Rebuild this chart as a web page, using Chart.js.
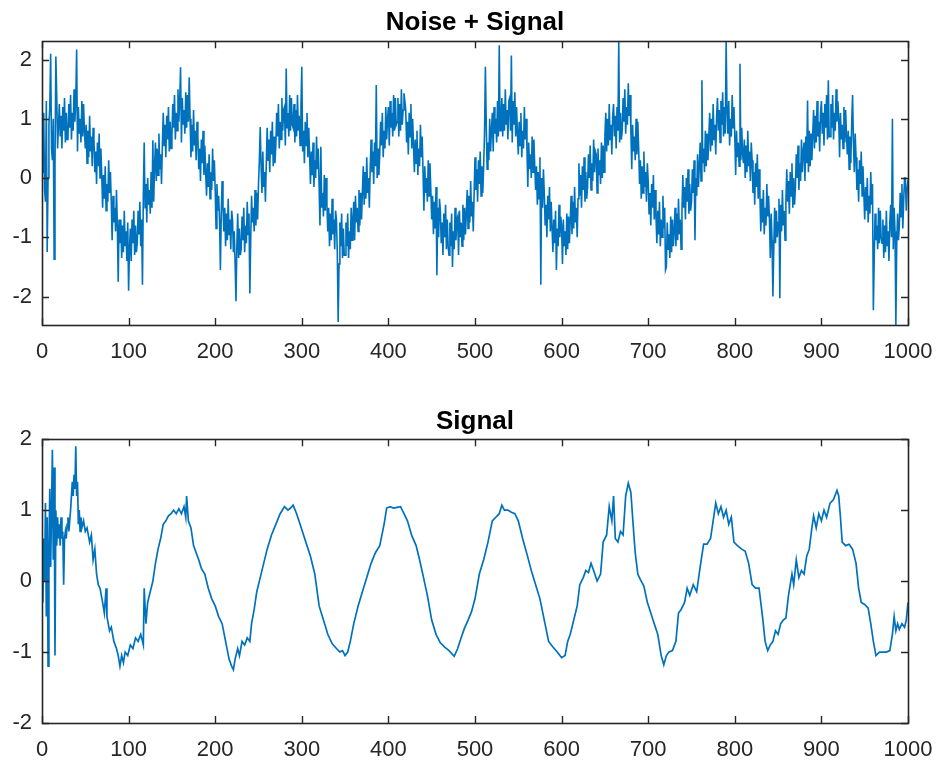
<!DOCTYPE html>
<html>
<head>
<meta charset="utf-8">
<script src="https://cdn.jsdelivr.net/npm/chart.js@4.4.1/dist/chart.umd.min.js"></script>
<style>
  html, body { margin: 0; padding: 0; background: #ffffff; }
  #wrap { position: relative; width: 940px; height: 763px; overflow: hidden; }
  canvas { position: absolute; left: 0; }
  #c1 { top: 0; }
  #c2 { top: 380px; }
</style>
</head>
<body>
<div id="wrap">
  <canvas id="c1" width="940" height="380"></canvas>
  <canvas id="c2" width="940" height="383"></canvas>
</div>
<script>
// ---------------- DATA ----------------
const topTitle = 'Noise + Signal';
const bottomTitle = 'Signal';

const xTickValues = [0, 100, 200, 300, 400, 500, 600, 700, 800, 900, 1000];
const yTickValuesTop = [-2, -1, 0, 1, 2];
const yTickValuesBottom = [-2, -1, 0, 1, 2];

const topYMin = -2.48;
const topYMax = 2.31;
const bottomYMin = -2;
const bottomYMax = 2;

// Noise + Signal, one sample per unit of x (x = 0 ... 1000); 20 samples per row
const noisyValues = [
  0.10, 0.60, 1.10, -0.20, -0.40, 1.30, -1.25, 0.00, 0.90, 1.20, 2.10, 0.50, 0.30, 1.00, -1.37, 0.20, 2.05, 1.40, 0.50, 0.90,
  1.25, 0.70, 1.05, 0.50, 1.20, 0.80, 1.35, 0.60, 1.10, 0.65, 0.70, 1.25, 0.85, 1.40, 0.65, 1.10, 0.80, 1.50, 0.95, 1.30,
  2.17, 0.45, 1.20, 0.75, 1.00, 0.60, 1.30, 0.70, 1.25, 0.80, 0.50, 0.90, 0.25, 0.80, 0.35, 1.05, 0.45, 0.70, 0.20, 0.85,
  0.65, 0.10, 0.45, -0.10, 0.60, 0.20, 0.75, 0.00, 0.50, 0.05, -0.50, 0.05, -0.35, 0.20, -0.55, -0.10, -0.40, 0.30, -0.25, 0.10,
  -0.40, -1.05, -0.30, -0.75, -0.50, -0.90, -0.20, -0.80, -1.75, -0.70, -1.10, -0.70, -1.35, -0.80, -1.25, -0.55, -1.15, -0.90, -1.40, -0.75,
  -1.90, -1.20, -0.85, -1.40, -0.70, -1.10, -0.55, -1.30, -0.80, -1.25, -1.10, -0.55, -0.95, -0.40, -1.15, -0.70, -1.80, -0.30, 0.60, -0.50,
  -0.10, -0.75, 0.00, -0.45, -0.20, -0.60, 0.10, -0.50, 0.64, -0.40, 0.20, 0.60, -0.05, 0.50, 0.05, 0.75, 0.15, 0.40, -0.10, 0.55,
  1.10, 0.55, 0.90, 0.35, 1.05, 0.65, 1.20, 0.45, 0.95, 0.50, 0.70, 1.25, 0.85, 1.40, 0.65, 1.10, 0.80, 1.50, 0.95, 1.30,
  1.87, 0.60, 1.35, 0.90, 1.15, 0.75, 1.45, 0.85, 1.40, 0.95, 1.70, 1.00, 0.35, 0.90, 0.45, 1.15, 0.55, 0.80, 0.30, 0.95,
  0.70, 0.15, 0.50, -0.05, 0.65, 0.25, 0.80, 0.05, 0.55, 0.10, -0.30, 0.25, -0.15, 0.40, -0.35, 0.10, -0.20, 0.50, -0.05, 0.30,
  -0.20, -0.85, -0.10, -0.55, -0.30, -0.70, -1.55, -0.60, -0.05, -0.50, -0.90, -0.50, -1.15, -0.60, -1.05, -0.35, -0.95, -0.70, -1.20, -0.55,
  -0.70, -1.25, -0.90, -1.45, -2.08, -1.15, -0.60, -1.35, -0.85, -1.30, -1.20, -0.65, -1.05, -0.50, -1.25, -0.80, -1.10, -0.40, -0.95, -0.60,
  -1.95, -1.05, -0.30, -0.75, -0.50, -0.90, -0.20, -0.80, -0.25, -0.70, -0.10, 0.30, 0.86, 0.20, -0.25, 0.45, -0.15, 0.10, -0.40, 0.25,
  0.85, 0.30, 0.65, 0.10, 0.80, 0.40, 0.95, 0.20, 0.70, 0.25, 0.55, 1.10, 0.70, 1.25, 0.50, 0.95, 0.65, 1.35, 0.80, 1.15,
  1.20, 0.55, 1.85, 0.85, 1.10, 0.70, 1.40, 0.80, 1.35, 0.90, 0.85, 1.25, 0.60, 1.15, 0.70, 1.40, 0.80, 1.05, 0.55, 1.20,
  1.88, 0.45, 0.80, 0.25, 0.95, 0.55, 1.10, 0.35, 0.85, 0.40, -0.10, 0.45, 0.05, 0.60, -0.15, 0.30, 0.00, 0.70, 0.15, 0.50,
  -0.15, -0.80, 0.53, -0.50, -0.25, -0.65, 0.05, -0.55, 0.00, -0.45, -0.90, -0.50, -1.15, -0.60, -1.05, -0.35, -0.95, -0.70, -1.20, -0.55,
  -0.70, -1.25, -2.43, -1.45, -0.75, -1.15, -0.60, -1.35, -0.85, -1.30, -1.30, -0.75, -1.15, -0.60, -1.35, -0.90, -1.20, -0.50, -1.05, -0.70,
  -0.40, -1.05, -0.30, -0.75, -0.50, -0.90, -0.20, -0.80, -0.25, -0.70, -0.20, 0.20, -0.45, 0.10, -0.35, 0.35, -0.25, 0.00, -0.50, 0.15,
  0.65, 0.10, 0.45, -0.10, 0.60, 0.20, 1.57, 0.00, 0.50, 0.05, 0.40, 0.95, 0.55, 1.10, 0.35, 0.80, 0.50, 1.20, 0.65, 1.00,
  1.20, 0.55, 1.30, 0.85, 1.10, 0.70, 1.40, 0.80, 1.35, 0.90, 0.95, 1.35, 0.70, 1.25, 0.80, 1.50, 0.90, 1.15, 1.43, 1.30,
  1.15, 0.60, 0.95, 0.40, 1.10, 0.70, 1.25, 0.50, 1.00, 0.55, 0.10, 0.65, 0.25, 0.80, 0.05, 0.50, 0.20, 0.90, 0.35, 0.70,
  0.10, -0.55, 0.20, -0.25, 0.00, -0.40, 0.30, -0.30, 0.25, -0.20, -0.70, -0.30, -0.95, -0.40, -0.85, -0.15, -1.64, -0.50, -1.00, -0.35,
  -0.55, -1.10, -0.75, -1.30, -0.60, -1.00, -0.45, -1.20, -0.70, -1.15, -1.30, -0.75, -1.15, -0.60, -1.50, -0.90, -1.20, -0.50, -1.05, -0.70,
  -0.65, -1.30, -0.55, -1.00, -0.75, -1.15, -0.45, -1.05, -0.50, -0.95, -0.60, -0.20, -0.85, -0.30, -0.75, -0.05, -0.65, -0.40, -0.90, -0.25,
  0.35, -0.20, 0.15, -0.40, 0.30, -0.10, 0.45, -0.30, 0.20, -0.25, 0.20, 0.75, 1.88, 0.90, 0.15, 0.60, 0.30, 1.00, 0.45, 0.80,
  1.10, 0.45, 1.20, 0.75, 1.00, 0.60, 1.30, 0.70, 2.24, 0.80, 0.95, 1.35, 0.70, 1.25, 0.80, 1.50, 0.90, 1.15, 0.65, 1.30,
  1.35, 0.80, 2.07, 0.60, 1.30, 0.90, 1.45, 0.70, 1.20, 0.75, 0.40, 0.95, 0.55, 1.10, 0.35, 0.80, 0.50, 1.20, 0.65, 1.00,
  0.50, -0.15, 0.60, 0.15, 0.40, 0.00, 0.70, 0.10, 0.65, 0.20, -0.20, 0.20, -0.45, 0.10, -0.35, 0.35, -1.80, 0.00, -0.50, 0.15,
  -0.25, -0.80, -0.45, -1.00, -0.30, -0.70, -0.15, -0.90, -0.40, -0.85, -1.25, -0.70, -1.10, -0.55, -1.55, -0.85, -1.15, -0.45, -1.00, -0.65,
  -0.80, -1.45, -0.70, -1.15, -0.90, -1.30, -0.60, -1.20, -0.65, -1.10, -0.70, -0.30, -0.95, -0.40, -0.85, -0.15, -0.75, -0.50, -1.00, -0.35,
  0.25, -0.30, 0.05, -0.50, 0.20, -0.20, 0.35, -0.40, 0.10, -0.35, -0.15, 0.40, 0.00, 0.55, -0.20, 0.25, -0.05, 0.65, 0.10, 0.45,
  0.40, -0.25, 0.50, 0.05, 0.30, -0.10, 0.60, 0.00, 0.55, 0.10, 0.70, 1.10, 0.45, 1.00, 0.55, 1.25, 0.65, 0.90, 0.40, 1.05,
  1.25, 0.70, 1.05, 0.50, 1.20, 0.80, 2.31, 0.60, 1.10, 0.65, 0.80, 1.35, 0.95, 1.50, 0.75, 1.20, 0.90, 1.60, 1.05, 1.40,
  0.80, 0.15, 0.90, 0.45, 0.70, 0.30, 1.00, 0.40, 0.95, 0.50, -0.10, 0.30, -0.35, 0.20, -0.25, 0.45, -0.15, 0.10, -0.40, 0.25,
  -0.05, -0.60, -0.25, -0.80, -0.10, -0.50, 0.05, -0.70, -0.20, -0.65, -1.10, -0.55, -0.95, -0.40, -1.15, -0.70, -1.00, -0.30, -0.85, -0.50,
  -1.55, -1.50, -0.75, -1.20, -0.95, -1.35, -0.65, -1.25, -0.70, -1.15, -0.90, -0.50, -1.15, -0.60, -1.05, -0.35, -0.95, -0.70, -1.20, -0.55,
  0.05, -0.50, -0.15, -0.70, 0.00, -0.40, 0.15, -0.60, -0.10, -0.55, -0.40, 0.15, -0.25, 0.30, -1.05, 0.00, -0.30, 0.40, -0.15, 0.20,
  0.60, -0.05, 1.65, 0.25, 0.50, 0.10, 0.80, 0.20, 0.75, 0.30, 0.70, 1.10, 0.45, 1.00, 0.55, 1.25, 0.65, 0.90, 0.40, 1.05,
  1.35, 0.80, 1.15, 0.60, 1.30, 0.90, 1.45, 0.70, 1.20, 0.75, 2.31, 1.15, 0.75, 1.30, 0.55, 1.00, 0.70, 1.40, 0.85, 1.20,
  0.70, 0.05, 0.80, 0.35, 0.60, 0.20, 1.93, 0.30, 0.85, 0.40, 0.25, 0.65, 0.00, 0.55, 0.10, 0.80, 0.20, 0.45, -0.05, 0.60,
  0.30, -0.25, 0.10, -0.45, 0.25, -0.15, 0.40, -0.35, 0.15, -0.30, -0.90, -0.35, -0.75, -0.20, -0.95, -0.50, -0.80, -0.10, -0.65, -0.30,
  -0.70, -1.35, -0.60, -1.05, -2.00, -1.20, -0.50, -1.10, -0.55, -1.00, -0.75, -0.35, -2.03, -0.45, -0.90, -0.20, -0.80, -0.55, -1.05, -0.40,
  0.15, -0.40, -0.05, -0.60, 0.10, -0.30, 0.25, -0.50, 0.00, -0.45, -0.15, 0.40, 0.00, 0.55, -0.20, 0.25, -0.05, 0.65, 0.10, 0.45,
  0.60, -0.05, 0.70, 0.25, 1.31, 0.10, 0.80, 0.20, 0.75, 0.30, 0.75, 1.15, 0.50, 1.05, 0.60, 1.30, 0.70, 0.95, 0.45, 1.10,
  1.30, 0.75, 1.10, 0.55, 1.25, 0.85, 1.40, 0.65, 1.65, 0.70, 0.70, 1.25, 0.85, 1.40, 0.65, 1.10, 0.80, 1.50, 0.95, 1.30,
  1.00, 0.35, 1.10, 0.65, 0.90, 0.50, 1.20, 0.60, 1.15, 0.70, 0.40, 0.80, 0.15, 0.70, 0.25, 0.95, 1.40, 0.60, 0.10, 0.75,
  0.35, -0.20, 0.15, -0.40, 0.30, -0.10, 0.45, -0.30, 0.20, -0.25, -0.70, -0.15, -0.55, 0.00, -0.75, -0.30, -0.60, 0.10, -0.45, -0.10,
  -2.23, -1.35, -0.60, -1.05, -0.80, -1.20, -0.50, -1.10, -0.55, -1.00, -1.10, -0.70, -1.35, -0.80, -1.25, -0.55, -1.15, -0.90, -1.40, -0.75,
  -0.45, -1.00, 1.00, -1.20, -0.50, -0.90, -2.48, -1.10, -0.60, -1.05, -0.80, -0.25, -0.65, -0.10, -0.85, -0.40, 0.00, 0.00, -0.55, -0.20,
  -0.03
];

// Signal (denoised): sample positions and values
const signalX = [
  0, 1, 2, 3, 4, 5, 6, 7, 8, 9, 10, 11, 12, 13, 14, 15, 16, 17, 18, 19,
  20, 21, 22, 23, 24, 25, 26, 27, 28, 29, 30, 31, 33, 35, 36, 37, 38, 39, 40, 41,
  42, 43, 44, 45, 46, 48, 50, 52, 55, 57, 59, 61, 63, 65, 67, 70, 72, 74, 75, 78,
  80, 83, 86, 88, 90, 92, 94, 96, 99, 102, 105, 108, 111, 114, 117, 118, 120, 122, 125, 128,
  131, 134, 137, 140, 143, 146, 149, 152, 155, 158, 161, 164, 166, 167, 169, 172, 175, 178, 181, 184,
  188, 192, 196, 200, 204, 208, 212, 216, 219, 221, 223, 226, 228, 231, 234, 237, 240, 242, 245, 248,
  251, 255, 260, 265, 270, 275, 280, 284, 287, 290, 294, 298, 302, 306, 310, 315, 320, 325, 330, 335,
  340, 344, 347, 350, 353, 356, 360, 365, 370, 375, 380, 385, 390, 395, 398, 402, 406, 410, 414, 418,
  422, 427, 432, 436, 440, 445, 450, 455, 460, 465, 470, 476, 480, 484, 488, 492, 496, 500, 505, 510,
  515, 520, 524, 528, 531, 534, 538, 542, 546, 550, 555, 560, 565, 570, 575, 580, 585, 590, 595, 600,
  604, 607, 610, 614, 618, 621, 625, 628, 631, 634, 637, 641, 645, 648, 652, 655, 658, 660, 662, 665,
  668, 671, 674, 677, 680, 682, 685, 688, 691, 695, 699, 703, 707, 711, 715, 718, 721, 724, 728, 732,
  735, 738, 742, 745, 748, 752, 756, 760, 764, 768, 772, 775, 778, 781, 784, 787, 790, 793, 796, 799,
  803, 808, 812, 816, 820, 824, 828, 832, 835, 838, 841, 844, 847, 850, 853, 856, 859, 862, 866, 868,
  871, 874, 877, 880, 883, 886, 889, 891, 894, 897, 900, 903, 906, 910, 914, 918, 920, 922, 924, 928,
  932, 936, 940, 943, 946, 950, 954, 957, 960, 963, 967, 971, 975, 979, 982, 984, 986, 988, 990, 993,
  996, 998, 1000
];
const signalValues = [
  0.1, -0.3, 0.6, 0.0, 1.1, -0.5, 0.9, -1.2, 0.4, 1.3, 0.2, 1.0, 1.85, 0.3, 1.6, -1.05, 1.0, 0.5, 0.9, 0.6,
  0.8, 0.5, 0.9, 0.6, 0.7, -0.05, 0.6, 0.7, 0.6, 0.8, 0.9, 0.7, 1.0, 1.4, 1.2, 1.5, 1.3, 1.9, 1.2, 1.4,
  0.8, 1.0, 0.7, 0.9, 0.75, 0.85, 0.7, 0.75, 0.55, 0.65, 0.3, 0.45, 0.1, -0.05, -0.1, -0.3, -0.45, -0.1, -0.5, -0.7,
  -0.65, -0.85, -0.95, -1.05, -1.2, -1.05, -1.15, -1.0, -1.05, -0.9, -0.95, -0.8, -0.85, -0.75, -0.9, -0.1, -0.6, -0.3, -0.15, 0.0,
  0.25, 0.45, 0.6, 0.8, 0.85, 0.92, 0.95, 1.0, 0.95, 1.02, 0.95, 1.05, 0.9, 1.2, 0.85, 0.75, 0.5, 0.4, 0.3, 0.18,
  0.1, -0.1, -0.25, -0.35, -0.5, -0.6, -0.85, -1.1, -1.2, -1.25, -1.1, -0.95, -1.05, -0.85, -0.9, -0.8, -0.85, -0.6, -0.4, -0.15,
  0.0, 0.2, 0.45, 0.65, 0.8, 0.95, 1.05, 1.0, 1.03, 1.07, 0.95, 0.8, 0.65, 0.5, 0.35, 0.1, -0.35, -0.55, -0.75, -0.88,
  -0.95, -1.0, -0.98, -1.05, -1.0, -0.85, -0.6, -0.35, -0.15, 0.05, 0.25, 0.4, 0.5, 0.8, 1.03, 1.05, 1.03, 1.04, 1.05, 0.95,
  0.85, 0.64, 0.5, 0.3, 0.08, -0.2, -0.55, -0.75, -0.87, -0.93, -0.98, -1.06, -0.95, -0.8, -0.66, -0.55, -0.43, -0.25, 0.1, 0.3,
  0.55, 0.85, 0.9, 0.95, 1.07, 1.0, 1.0, 0.97, 0.95, 0.85, 0.6, 0.38, 0.15, -0.05, -0.25, -0.55, -0.85, -0.93, -1.0, -1.08,
  -1.05, -0.85, -0.75, -0.55, -0.35, -0.05, 0.05, 0.15, 0.12, 0.25, 0.15, 0.0, 0.1, 0.55, 0.65, 1.05, 0.85, 1.2, 0.6, 0.55,
  0.7, 0.65, 1.2, 1.38, 1.25, 0.9, 0.4, 0.1, 0.02, -0.07, -0.3, -0.45, -0.6, -0.75, -1.05, -1.18, -1.05, -1.0, -0.98, -0.85,
  -0.45, -0.4, -0.3, -0.1, -0.2, -0.05, -0.15, 0.2, 0.52, 0.52, 0.6, 0.85, 1.1, 0.95, 1.05, 0.9, 1.0, 0.8, 0.9, 0.55,
  0.5, 0.45, 0.42, 0.25, -0.05, -0.1, -0.1, -0.5, -0.85, -0.98, -0.9, -0.85, -0.7, -0.75, -0.6, -0.55, -0.52, -0.2, 0.1, -0.05,
  0.3, 0.05, 0.15, 0.1, 0.35, 0.45, 0.75, 0.92, 0.75, 0.95, 0.85, 1.0, 0.9, 1.1, 1.15, 1.28, 1.2, 0.9, 0.55, 0.5,
  0.52, 0.45, 0.25, -0.1, -0.3, -0.33, -0.38, -0.6, -0.85, -1.05, -1.0, -1.0, -1.0, -0.98, -0.75, -0.5, -0.7, -0.6, -0.68, -0.6,
  -0.65, -0.55, -0.3
];

// ---------------- STYLE / RENDER ----------------
const FONT = "'Liberation Sans', Arial, Helvetica, sans-serif";
const AXIS_COLOR = '#262626';
const LINE_COLOR = '#0072BD';

const matlabBox = {
  id: 'matlabBox',
  afterDatasetsDraw(chart) {
    const { ctx, chartArea: a, scales } = chart;
    const xs = scales.x, ys = scales.y;
    const L = 7;
    ctx.save();
    ctx.strokeStyle = AXIS_COLOR;
    ctx.lineWidth = 1.4;
    ctx.beginPath();
    xs.ticks.forEach(t => {
      const px = Math.round(xs.getPixelForValue(t.value)) + 0.5;
      ctx.moveTo(px, a.bottom); ctx.lineTo(px, a.bottom - L);
      ctx.moveTo(px, a.top); ctx.lineTo(px, a.top + L);
    });
    ys.ticks.forEach(t => {
      const py = Math.round(ys.getPixelForValue(t.value)) + 0.5;
      ctx.moveTo(a.left, py); ctx.lineTo(a.left + L, py);
      ctx.moveTo(a.right, py); ctx.lineTo(a.right - L, py);
    });
    ctx.stroke();
    ctx.lineWidth = 1.6;
    ctx.strokeRect(Math.round(a.left) + 0.5, Math.round(a.top) + 0.5,
                   Math.round(a.right - a.left), Math.round(a.bottom - a.top));
    ctx.restore();
  }
};

function makeChart(canvasId, points, title, yMin, yMax, yTicks, titlePad, xAxisHeight, lineWidth) {
  return new Chart(document.getElementById(canvasId), {
    type: 'line',
    data: {
      datasets: [{
        data: points,
        borderColor: LINE_COLOR,
        borderWidth: lineWidth,
        pointRadius: 0,
        tension: 0,
        fill: false
      }]
    },
    options: {
      responsive: false,
      animation: false,
      devicePixelRatio: 1,
      parsing: false,
      normalized: true,
      layout: { padding: { left: 0, right: 32, top: 0, bottom: 0 } },
      plugins: {
        legend: { display: false },
        tooltip: { enabled: false },
        title: {
          display: true,
          text: title,
          fullSize: false,
          color: '#000000',
          font: { family: FONT, size: 26, weight: 'bold', lineHeight: 1.2 },
          padding: titlePad
        }
      },
      scales: {
        x: {
          type: 'linear',
          min: 0,
          max: 1000,
          afterBuildTicks: s => { s.ticks = xTickValues.map(v => ({ value: v })); },
          afterFit: s => { s.height = xAxisHeight; s.paddingLeft = 0; s.paddingRight = 0; },
          grid: { display: false, drawTicks: false },
          border: { display: false },
          ticks: {
            color: AXIS_COLOR,
            font: { family: FONT, size: 22 },
            padding: 14,
            maxRotation: 0,
            autoSkip: false,
            callback: v => String(v)
          }
        },
        y: {
          type: 'linear',
          min: yMin,
          max: yMax,
          afterBuildTicks: s => { s.ticks = yTicks.map(v => ({ value: v })); },
          afterFit: s => { s.width = 42; s.paddingTop = 0; s.paddingBottom = 0; },
          grid: { display: false, drawTicks: false },
          border: { display: false },
          ticks: {
            color: AXIS_COLOR,
            font: { family: FONT, size: 22 },
            padding: 10,
            autoSkip: false,
            callback: v => String(v)
          }
        }
      }
    },
    plugins: [matlabBox]
  });
}

const noisyPoints = noisyValues.map((v, i) => ({ x: i, y: v }));
const signalPoints = signalX.map((x, i) => ({ x: x, y: signalValues[i] }));

makeChart('c1', noisyPoints, topTitle, topYMin, topYMax, yTickValuesTop, { top: 7, bottom: 3 }, 55, 1.6);
makeChart('c2', signalPoints, bottomTitle, bottomYMin, bottomYMax, yTickValuesBottom, { top: 26, bottom: 2 }, 40, 1.7);
</script>
</body>
</html>
